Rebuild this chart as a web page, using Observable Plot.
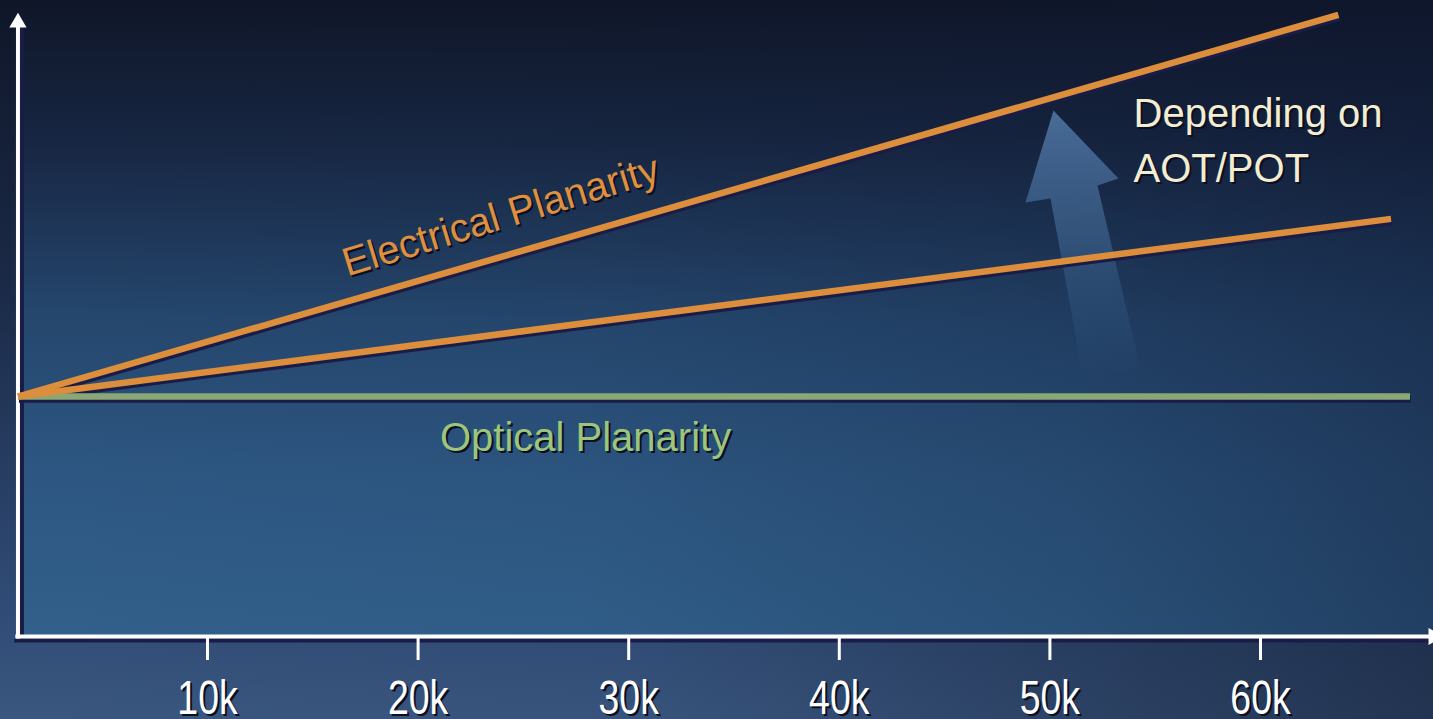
<!DOCTYPE html>
<html>
<head>
<meta charset="utf-8">
<script src="https://cdn.jsdelivr.net/npm/d3@7"></script>
<script src="https://cdn.jsdelivr.net/npm/@observablehq/plot@0.6"></script>
<style>
  html, body { margin: 0; padding: 0; background: #14203a; overflow: hidden; }
  #chart svg { display: block; }
</style>
</head>
<body>
<div id="chart"></div>
<script>
// Wafer count (x) vs. planarity degradation (arbitrary units, y)
const xTicks = [10000, 20000, 30000, 40000, 50000, 60000];
const xTickLabels = ["10k", "20k", "30k", "40k", "50k", "60k"];

// Electrical planarity: steep case and shallow case (range depends on AOT/POT)
const electricalHigh = [{x: 1000, y: 10}, {x: 63700, y: 25.9}];
const electricalLow = [{x: 1000, y: 10}, {x: 66200, y: 17.4}];
// Optical planarity stays flat
const optical = [{x: 1000, y: 10}, {x: 67100, y: 10}];

// Wide arrow showing the spread between the two electrical cases
const spreadArrow = [
  {x: 50170, y: 21.92}, {x: 53257, y: 19.08}, {x: 52260, y: 18.79},
  {x: 54300, y: 11.17}, {x: 51595, y: 10.75}, {x: 50030, y: 18.25},
  {x: 48840, y: 18.08}
];

// Axis extents
const xAxisStart = 1000, xAxisEnd = 68215;
const yAxisTop = 25.58, yTop = 26.5;

const labels = [
  {text: "Electrical Planarity", x: 24100, y: 17.0, rotate: -17, color: "#de9040"},
  {text: "Optical Planarity", x: 27950, y: 7.71, rotate: 0, color: "#9dc67c"},
  {text: "Depending on\nAOT/POT", x: 53970, y: 18.92, rotate: 0, color: "#f3edd2"}
];

const orange = "#dc8e3c";
const green = "#8aa776";
const shade = "#1a1c48";
const font = "Liberation Sans, Arial, Helvetica, sans-serif";

const lineStyle = {x: "x", y: "y", strokeWidth: 6.5, strokeLinecap: "butt"};
const tickStyle = {
  label: null,
  tickFormat: (d, i) => xTickLabels[i],
  tickSize: 24,
  tickPadding: 19,
  fontSize: 48
};

const plot = Plot.plot({
  width: 1433,
  height: 719,
  marginLeft: 0,
  marginRight: 0,
  marginTop: 0,
  marginBottom: 83,
  x: {domain: [171, 68215], axis: null},
  y: {domain: [0, yTop], axis: null},
  style: {
    background:
      "linear-gradient(to right, rgba(12,18,35,0) 0%, rgba(12,18,35,0.05) 45%, rgba(12,18,35,0.5) 100%), " +
      "linear-gradient(to bottom, #0f1628 0%, #1b2a48 40%, #304c76 85%, #3a5780 100%)",
    fontFamily: font,
    fontSize: "40px",
    color: "white",
    overflow: "hidden"
  },
  marks: [
    // plot panel
    Plot.rect([0], {x1: xAxisStart, x2: xAxisEnd, y1: 0, y2: yTop, fill: "url(#panelGrad)"}),
    Plot.rect([0], {x1: xAxisStart, x2: xAxisEnd, y1: 0, y2: yTop, fill: "url(#panelShade)"}),

    // translucent spread arrow
    Plot.line(spreadArrow, {x: "x", y: "y", fill: "url(#spreadGrad)", stroke: "none", curve: "linear-closed"}),

    // axes with shadows
    Plot.ruleY([0], {x1: xAxisStart - 150, x2: xAxisEnd, stroke: shade, strokeWidth: 4, dy: 4}),
    Plot.ruleX([xAxisStart], {y1: 0, y2: yAxisTop, stroke: shade, strokeWidth: 4, dx: 4}),
    Plot.ruleY([0], {x1: xAxisStart - 100, x2: xAxisEnd, stroke: "white", strokeWidth: 4}),
    Plot.ruleX([xAxisStart], {y1: -0.1, y2: yAxisTop, stroke: "white", strokeWidth: 4}),
    Plot.dot([{x: xAxisStart, y: yAxisTop}], {x: "x", y: "y", symbol: "triangle", r: 6.4, fill: "white", stroke: "none"}),
    Plot.dot([{x: xAxisEnd, y: 0}], {x: "x", y: "y", symbol: "triangle", r: 6.4, rotate: 90, fill: "white", stroke: "none"}),

    // x axis tick labels (shadow, then face)
    Plot.axisX(xTicks, {...tickStyle, fill: "#0a0f22", stroke: "none", dx: 2, dy: 2}),
    Plot.axisX(xTicks, {...tickStyle, fill: "white", stroke: "white", strokeWidth: 3}),

    // line shadows
    Plot.line(optical, {...lineStyle, stroke: shade, dx: 1, dy: 3}),
    Plot.line(electricalLow, {...lineStyle, stroke: shade, dx: 1, dy: 3}),
    Plot.line(electricalHigh, {...lineStyle, stroke: shade, dx: 1, dy: 3}),
    // lines
    Plot.line(optical, {...lineStyle, stroke: green}),
    Plot.line(electricalLow, {...lineStyle, stroke: orange}),
    Plot.line(electricalHigh, {...lineStyle, stroke: orange}),

    // labels (shadow, then face)
    Plot.text(labels, {
      x: "x", y: "y", text: "text", rotate: "rotate", textAnchor: "middle",
      lineAnchor: "bottom", lineHeight: 1.375, fill: "#0a0f22", dx: 2, dy: 2, fontSize: 40
    }),
    Plot.text(labels, {
      x: "x", y: "y", text: "text", rotate: "rotate", textAnchor: "middle",
      lineAnchor: "bottom", lineHeight: 1.375, fill: (d) => d.color, fontSize: 40
    })
  ]
});

const svg = d3.select(plot);
const defs = svg.insert("defs", ":first-child");

// panel background: dark at the top, lighter blue toward the bottom
const panel = defs.append("linearGradient").attr("id", "panelGrad")
  .attr("x1", 0).attr("y1", 0).attr("x2", 0).attr("y2", 1);
[["0%", "#0f1628"], ["22%", "#172642"], ["50%", "#25476e"], ["75%", "#2d5782"], ["100%", "#31608b"]]
  .forEach(([o, c]) => panel.append("stop").attr("offset", o).attr("stop-color", c));

// panel darkening toward the right
const panelShade = defs.append("linearGradient").attr("id", "panelShade")
  .attr("x1", 0).attr("y1", 0).attr("x2", 1).attr("y2", 0);
[["0%", 0], ["40%", 0.04], ["75%", 0.22], ["100%", 0.45]]
  .forEach(([o, a]) => panelShade.append("stop").attr("offset", o).attr("stop-color", "#0e1730").attr("stop-opacity", a));

// spread arrow: solid at the head, fading toward the tail
const grad = defs.append("linearGradient").attr("id", "spreadGrad")
  .attr("x1", 0).attr("y1", 0).attr("x2", 0).attr("y2", 1);
grad.append("stop").attr("offset", "0%").attr("stop-color", "#5a86b8").attr("stop-opacity", 0.75);
grad.append("stop").attr("offset", "45%").attr("stop-color", "#4d78a8").attr("stop-opacity", 0.5);
grad.append("stop").attr("offset", "100%").attr("stop-color", "#3d6694").attr("stop-opacity", 0);

// condensed face for the tick labels
svg.selectAll('g[aria-label="x-axis tick label"] text').each(function () {
  const t = this.getAttribute("transform") || "";
  this.setAttribute("transform", t + " scale(0.78,1)");
});

// the annotation block is left-aligned
svg.selectAll("text").filter(function () {
  return this.textContent.startsWith("Depending");
}).each(function () {
  d3.select(this).attr("text-anchor", "start");
});

document.getElementById("chart").appendChild(plot);
</script>
</body>
</html>
